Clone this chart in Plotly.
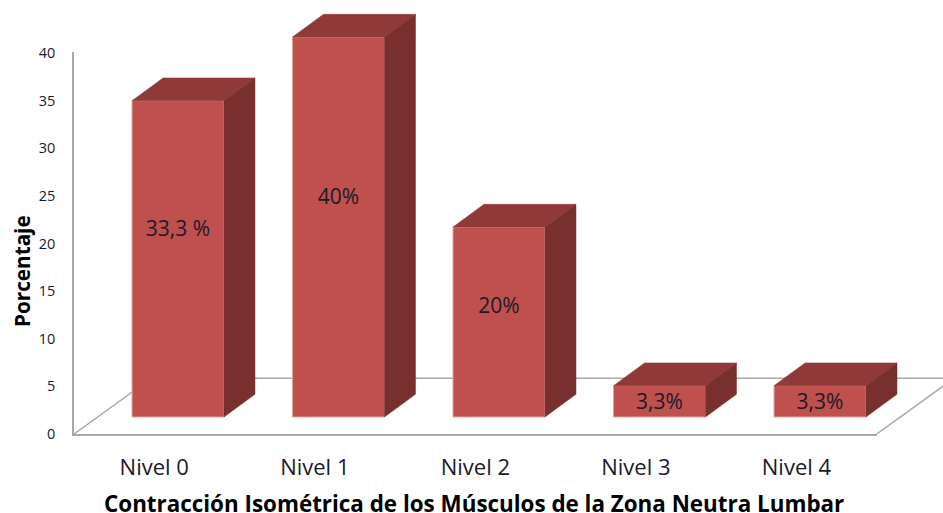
import plotly.graph_objects as go

categories = ["Nivel 0", "Nivel 1", "Nivel 2", "Nivel 3", "Nivel 4"]
values = [33.3, 40, 20, 3.3, 3.3]
bar_labels = ["33,3 %", "40%", "20%", "3,3%", "3,3%"]
label_heights = [19.6, 23.0, 11.5, 1.4, 1.4]
y_ticks = [0, 5, 10, 15, 20, 25, 30, 35, 40]

W, H = 943, 513
FRONT, TOP, SIDE = "#C0504D", "#8F3A38", "#78302E"
GRID = "#A9A9A9"
FONT = "Open Sans"
INK = "#1A1A2A"

bar_w = 0.573
depth_x = 31 / 160.5
depth_y = 22.7 / 9.5
floor_dx = 77.5 / 160.5
floor_dy = 56 / 9.55

fig = go.Figure()
idx = list(range(len(values)))

# Keeps the tick-carrying subplot alive; draws nothing
fig.add_trace(go.Scatter(
    x=idx, y=[0] * len(idx), mode="none",
    xaxis="x", yaxis="y", hoverinfo="skip", showlegend=False,
))

# Floor of the 3D box: heights on the tick axis, x on the full-width axis
fx0 = (74 - 178) / 160.5
fx1 = (876.7 - 178) / 160.5
fig.add_trace(go.Scatter(
    x=[fx0, fx0 + floor_dx, fx1 + floor_dx, fx1],
    y=[0, floor_dy, floor_dy, 0],
    mode="lines", line=dict(color=GRID, width=1.5),
    xaxis="x2", yaxis="y", cliponaxis=False, hoverinfo="skip", showlegend=False,
))

# Bars with their top and side faces
fig.add_trace(go.Bar(
    x=idx, y=values, width=bar_w, xaxis="x2", yaxis="y2",
    marker=dict(color=FRONT, line=dict(color="#DDA5A3", width=1)),
    hoverinfo="skip", showlegend=False,
))
for i, v in zip(idx, values):
    l, r = i - bar_w / 2, i + bar_w / 2
    fig.add_trace(go.Scatter(
        x=[l, l + depth_x, r + depth_x, r, l],
        y=[v, v + depth_y, v + depth_y, v, v],
        fill="toself", fillcolor=TOP, mode="lines",
        line=dict(color=TOP, width=0.5),
        xaxis="x2", yaxis="y2", hoverinfo="skip", showlegend=False,
    ))
    fig.add_trace(go.Scatter(
        x=[r, r + depth_x, r + depth_x, r, r],
        y=[0, depth_y, v + depth_y, v, 0],
        fill="toself", fillcolor=SIDE, mode="lines",
        line=dict(color=SIDE, width=0.5),
        xaxis="x2", yaxis="y2", hoverinfo="skip", showlegend=False,
    ))

fig.add_trace(go.Scatter(
    x=idx, y=label_heights, mode="text", text=bar_labels,
    textposition="middle center",
    textfont=dict(family=FONT, size=21, color=INK),
    xaxis="x2", yaxis="y2", hoverinfo="skip", showlegend=False,
))

fig.update_layout(
    width=W, height=H, margin=dict(l=0, r=0, t=0, b=0),
    paper_bgcolor="white", plot_bgcolor="rgba(0,0,0,0)", showlegend=False,
    xaxis=dict(
        domain=[74 / W, 876.7 / W], range=[-0.5, 4.5], automargin=False,
        tickvals=idx, ticktext=categories, ticks="", ticklabelstandoff=13,
        tickfont=dict(family=FONT, size=22, color=INK),
        showgrid=False, zeroline=False, showline=True, linecolor=GRID, linewidth=1.5,
        anchor="y",
    ),
    yaxis=dict(
        domain=[(H - 434) / H, (H - 52) / H], range=[0, 40.1], automargin=False,
        tickvals=y_ticks, ticks="", ticklabelstandoff=14,
        tickfont=dict(family=FONT, size=14.5, color=INK),
        showgrid=False, zeroline=False, showline=True, linecolor=GRID, linewidth=1.5,
        anchor="x",
    ),
    xaxis2=dict(
        domain=[0, 1], range=[-178 / 160.5, (W - 178) / 160.5],
        visible=False, anchor="y2", automargin=False,
    ),
    yaxis2=dict(
        domain=[0, 1], range=[(417 - H) / 9.5, 417 / 9.5],
        visible=False, anchor="x2", automargin=False,
    ),
    annotations=[
        dict(
            text="<b>Porcentaje</b>", textangle=-90, showarrow=False,
            xref="paper", yref="paper", x=22 / W, y=(H - 271) / H,
            xanchor="center", yanchor="middle",
            font=dict(family=FONT, size=20.7, color="#000000"),
        ),
        dict(
            text="<b>Contracción Isométrica de los Músculos de la Zona Neutra Lumbar</b>",
            showarrow=False, xref="paper", yref="paper", x=474 / W, y=(H - 503) / H,
            xanchor="center", yanchor="middle",
            font=dict(family=FONT, size=22.4, color="#000000"),
        ),
    ],
)

fig.write_html("out.html", post_script="document.body.style.margin='0';",
               config={"displayModeBar": False})
